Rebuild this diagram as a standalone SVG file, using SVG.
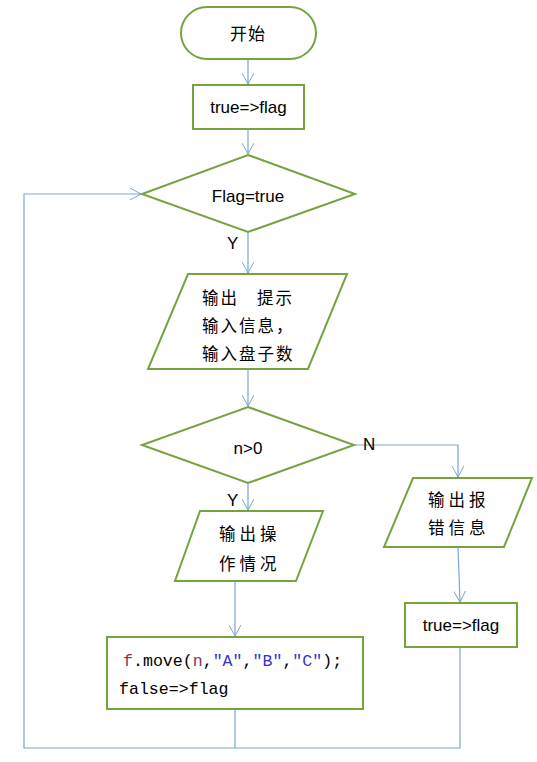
<svg xmlns="http://www.w3.org/2000/svg" width="537" height="762" viewBox="0 0 537 762">
<defs>
<marker id="arr" viewBox="0 0 12 12" refX="11" refY="6" markerWidth="12" markerHeight="12" markerUnits="userSpaceOnUse" orient="auto">
<path d="M0,0 L11,6 L0,12" fill="none" stroke="#7aa6d4" stroke-width="1"/>
</marker>
</defs>
<style>
.n{fill:#fff;stroke:#77a33f;stroke-width:2}
.c{fill:none;stroke:#7aa6d4;stroke-width:1.2}
.t{font-family:"Liberation Sans","Noto Sans CJK SC",sans-serif;font-size:17px;fill:#000}
.z{font-family:"Noto Sans CJK SC","Liberation Sans",sans-serif;font-size:16.5px;fill:#000;letter-spacing:2px}
.m{font-family:"Liberation Mono",monospace;font-size:16.6px;fill:#000}
</style>
<rect width="537" height="762" fill="#fff"/>
<g id="connectors">
<path class="c" d="M248,59 V84" marker-end="url(#arr)"/>
<path class="c" d="M248,129 V154" marker-end="url(#arr)"/>
<path class="c" d="M248,232 V273" marker-end="url(#arr)"/>
<path class="c" d="M248,369 V406" marker-end="url(#arr)"/>
<path class="c" d="M248,483 V510" marker-end="url(#arr)"/>
<path class="c" d="M354,445 H458 V477" marker-end="url(#arr)"/>
<path class="c" d="M458,547 L460,602" marker-end="url(#arr)"/>
<path class="c" d="M235,581 V636" marker-end="url(#arr)"/>
<path class="c" d="M235,710 V748"/>
<path class="c" d="M460,647 V748 H24 V194 H141" marker-end="url(#arr)"/>
</g>
<g id="start">
<rect class="n" x="181" y="7" width="135" height="52" rx="26"/>
<text class="z" x="248" y="40" text-anchor="middle" style="font-size:17px;letter-spacing:1px">开始</text>
</g>
<g id="init">
<rect class="n" x="193" y="85" width="111" height="44"/>
<text class="t" x="248.5" y="113" text-anchor="middle">true=&gt;flag</text>
</g>
<g id="loopcond">
<polygon class="n" points="248,155 355,194 248,232 142,194"/>
<text class="t" x="248" y="202" text-anchor="middle">Flag=true</text>
<text class="t" x="227" y="249">Y</text>
</g>
<g id="input">
<polygon class="n" points="188,274 347,274 308,369 148,369"/>
<text class="z" x="202" y="304">输出</text>
<text class="z" x="257" y="304">提示</text>
<text class="z" x="202" y="332">输入信息，</text>
<text class="z" x="202" y="360">输入盘子数</text>
</g>
<g id="ncond">
<polygon class="n" points="248,407 354,445 248,483 142,445"/>
<text class="t" x="248" y="454" text-anchor="middle">n&gt;0</text>
<text class="t" x="363" y="450">N</text>
<text class="t" x="227" y="506">Y</text>
</g>
<g id="outop">
<polygon class="n" points="200,511 323,511 296,581 175,581"/>
<text class="z" x="219" y="540" style="letter-spacing:4px">输出操</text>
<text class="z" x="219" y="570" style="letter-spacing:4px">作情况</text>
</g>
<g id="outerr">
<polygon class="n" points="413,478 532,478 504,547 384,547"/>
<text class="z" x="428" y="506" style="letter-spacing:4px">输出报</text>
<text class="z" x="428" y="534" style="letter-spacing:4px">错信息</text>
</g>
<g id="move">
<rect class="n" x="107" y="637" width="256" height="72"/>
<text class="m" x="123" y="666"><tspan fill="#7d3a55">f</tspan>.move(<tspan fill="#7d3a55">n</tspan>,<tspan fill="#3535c8">"A"</tspan>,<tspan fill="#3535c8">"B"</tspan>,<tspan fill="#3535c8">"C"</tspan>);</text>
<text class="m" x="119" y="694">false=&gt;flag</text>
</g>
<g id="reset">
<rect class="n" x="405" y="603" width="112" height="44"/>
<text class="t" x="461" y="631" text-anchor="middle">true=&gt;flag</text>
</g>
</svg>
